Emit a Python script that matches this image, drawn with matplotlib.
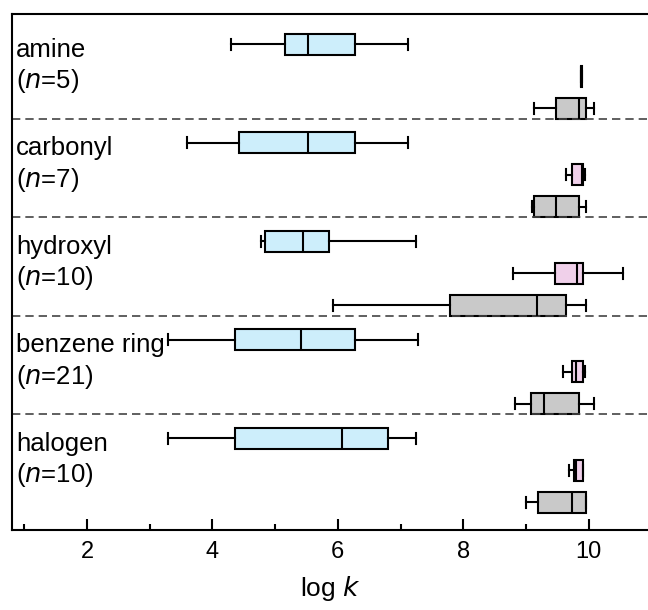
import matplotlib.pyplot as plt

groups = ['amine', 'carbonyl', 'hydroxyl', 'benzene ring', 'halogen']
counts = [5, 7, 10, 21, 10]

# whislo, q1, med, q3, whishi
blue = [
    [4.30, 5.15, 5.53, 6.27, 7.12],
    [3.60, 4.43, 5.53, 6.27, 7.12],
    [4.77, 4.84, 5.45, 5.86, 7.25],
    [3.29, 4.36, 5.42, 6.27, 7.27],
    [3.29, 4.36, 6.07, 6.80, 7.25],
]
pink = [
    [9.87, 9.87, 9.88, 9.89, 9.89],
    [9.64, 9.74, 9.89, 9.91, 9.94],
    [8.79, 9.46, 9.82, 9.91, 10.54],
    [9.59, 9.74, 9.79, 9.91, 9.94],
    [9.68, 9.76, 9.80, 9.91, 9.91],
]
gray = [
    [9.12, 9.47, 9.84, 9.96, 10.09],
    [9.09, 9.12, 9.47, 9.84, 9.96],
    [5.93, 7.78, 9.17, 9.63, 9.95],
    [8.83, 9.08, 9.28, 9.84, 10.09],
    [9.00, 9.19, 9.74, 9.95, 9.96],
]

colors = ['#cdeefb', '#f0d0ea', '#c9c9c9']

plt.rcParams['font.family'] = ['Liberation Sans', 'DejaVu Sans']

fig = plt.figure(figsize=(6.48, 6.10), dpi=100)
ax = fig.add_axes([0.018, 0.131, 0.985, 0.846])

step = 32.2
gap = 98.5
first = 44

def stat(v):
    return {'whislo': v[0], 'q1': v[1], 'med': v[2], 'q3': v[3], 'whishi': v[4], 'fliers': []}

for i in range(len(groups)):
    for j, data in enumerate([blue, pink, gray]):
        pos = first + gap * i + step * j
        ax.bxp([stat(data[i])], positions=[pos], widths=21, vert=False,
               patch_artist=True, showfliers=False, capwidths=11,
               boxprops=dict(facecolor=colors[j], edgecolor='black', linewidth=1.5),
               medianprops=dict(color='black', linewidth=1.5),
               whiskerprops=dict(color='black', linewidth=1.5),
               capprops=dict(color='black', linewidth=1.5))
    ax.text(0.87, first + gap * i + step * 0.7,
            groups[i] + '\n($\\it{n}$=' + str(counts[i]) + ')',
            fontsize=18.5, va='center', ha='left', linespacing=1.25)
    if i < len(groups) - 1:
        ax.axhline(first + gap * i + step * 2 + 10.5, color='#444444', linestyle=(0, (5, 3)), linewidth=1.2)

ax.set_ylim(530, 14)
ax.set_xlim(0.80, 10.975)
ax.set_yticks([])
ax.set_xticks([2, 4, 6, 8, 10])
ax.set_xticks([1, 3, 5, 7, 9], minor=True)
ax.tick_params(axis='x', which='major', direction='in', length=8, width=1.5, labelsize=17, pad=8)
ax.tick_params(axis='x', which='minor', direction='in', length=4, width=1.5)
for s in ax.spines.values():
    s.set_linewidth(1.5)
ax.set_xlabel('log $\\it{k}$', fontsize=19, labelpad=8)

fig.savefig('out.png', dpi=100)
